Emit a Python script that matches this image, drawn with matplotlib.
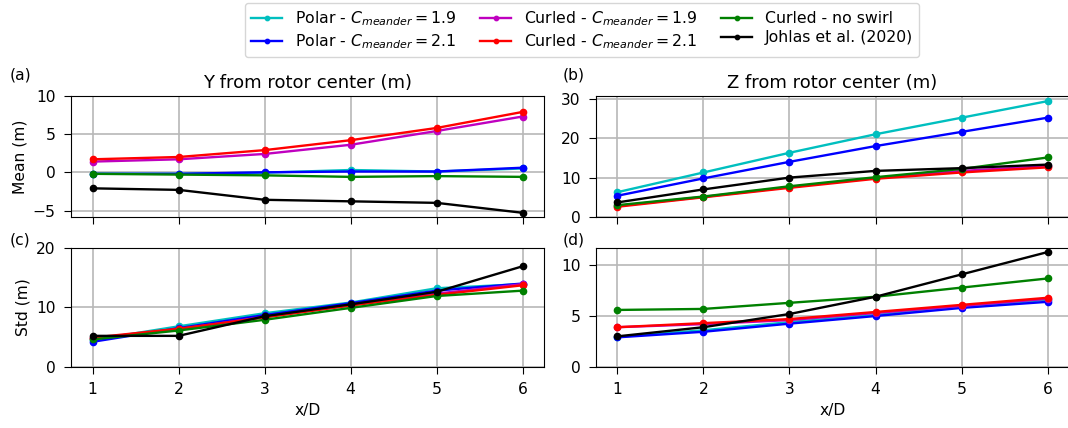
import matplotlib
matplotlib.use('Agg')
import matplotlib.pyplot as plt

# downstream positions
x_d = [1, 2, 3, 4, 5, 6]

labels = [
    r'Polar - $C_{meander} = 1.9$',
    r'Polar - $C_{meander} = 2.1$',
    r'Curled - $C_{meander} = 1.9$',
    r'Curled - $C_{meander} = 2.1$',
    'Curled - no swirl',
    'Johlas et al. (2020)',
]
colors = ['c', 'b', 'm', 'r', 'g', 'k']

# (a) mean Y
mean_y = [
    [-0.2, -0.2, -0.05, 0.3, 0.1, 0.5],
    [-0.2, -0.2, 0.0, 0.1, 0.1, 0.6],
    [1.4, 1.7, 2.4, 3.6, 5.4, 7.3],
    [1.7, 2.0, 2.9, 4.2, 5.8, 7.9],
    [-0.2, -0.3, -0.4, -0.6, -0.5, -0.6],
    [-2.1, -2.3, -3.6, -3.8, -4.0, -5.3],
]
# (b) mean Z
mean_z = [
    [6.3, 11.3, 16.3, 21.0, 25.2, 29.4],
    [5.4, 9.8, 14.0, 18.0, 21.6, 25.2],
    [2.8, 5.1, 7.6, 9.9, 11.7, 12.9],
    [2.6, 5.0, 7.4, 9.7, 11.3, 12.6],
    [3.0, 5.2, 7.8, 10.1, 12.2, 15.1],
    [3.7, 7.0, 10.0, 11.7, 12.4, 13.3],
]
# (c) std Y
std_y = [
    [4.5, 6.8, 9.0, 10.8, 13.2, 13.9],
    [4.2, 6.5, 8.7, 10.7, 12.8, 14.0],
    [4.8, 6.3, 8.4, 10.4, 12.3, 13.9],
    [4.9, 6.4, 8.3, 10.3, 12.1, 13.7],
    [4.6, 6.1, 7.9, 9.9, 11.9, 12.8],
    [5.2, 5.2, 8.5, 10.5, 12.6, 16.9],
]
# (d) std Z
std_z = [
    [2.95, 3.6, 4.4, 5.1, 5.9, 6.6],
    [2.9, 3.45, 4.25, 5.0, 5.8, 6.4],
    [3.9, 4.2, 4.6, 5.3, 6.0, 6.7],
    [3.9, 4.3, 4.7, 5.4, 6.1, 6.8],
    [5.6, 5.7, 6.3, 6.9, 7.8, 8.7],
    [3.0, 3.9, 5.2, 6.9, 9.1, 11.3],
]

fig = plt.figure(figsize=(10.68, 4.28), dpi=100)
ax_a = fig.add_axes([0.0665, 0.493, 0.443, 0.283])
ax_b = fig.add_axes([0.558, 0.493, 0.443, 0.283])
ax_c = fig.add_axes([0.0665, 0.143, 0.443, 0.278])
ax_d = fig.add_axes([0.558, 0.143, 0.443, 0.278])

fs = 11.2
panels = [(ax_a, mean_y), (ax_b, mean_z), (ax_c, std_y), (ax_d, std_z)]
for ax, data in panels:
    for vals, col, lab in zip(data, colors, labels):
        ax.plot(x_d, vals, '-o', color=col, lw=1.7, ms=4.5, label=lab)
    ax.grid(True, color='#b8b8b8', lw=1.2)
    ax.set_axisbelow(True)
    ax.set_xticks(x_d)
    ax.tick_params(labelsize=fs, length=5, pad=6)

ax_a.set_xticklabels([])
ax_b.set_xticklabels([])
ax_a.set_ylim(-5.85, 10)
ax_a.set_yticks([-5, 0, 5, 10])
ax_b.set_ylim(bottom=0)
ax_b.set_yticks([0, 10, 20, 30])
ax_c.set_ylim(0, 20)
ax_c.set_yticks([0, 10, 20])
ax_d.set_ylim(bottom=0)
ax_d.set_yticks([0, 5, 10])

ax_a.set_title('Y from rotor center (m)', fontsize=13)
ax_b.set_title('Z from rotor center (m)', fontsize=13)
ax_a.set_ylabel('Mean (m)', fontsize=fs)
ax_c.set_ylabel('Std (m)', fontsize=fs)
ax_c.set_xlabel('x/D', fontsize=fs)
ax_d.set_xlabel('x/D', fontsize=fs)

fig.text(0.009, 0.825, '(a)', fontsize=fs, va='center')
fig.text(0.527, 0.825, '(b)', fontsize=fs, va='center')
fig.text(0.009, 0.44, '(c)', fontsize=fs, va='center')
fig.text(0.527, 0.44, '(d)', fontsize=fs, va='center')

handles, labs = ax_a.get_legend_handles_labels()
fig.legend(handles, labs, loc='upper center', ncol=3, fontsize=11.3,
           bbox_to_anchor=(0.545, 1.0), markerscale=0.7,
           columnspacing=1.5, handlelength=2.0, borderaxespad=0.2,
           labelspacing=0.25)

fig.savefig('out.png', dpi=100)
